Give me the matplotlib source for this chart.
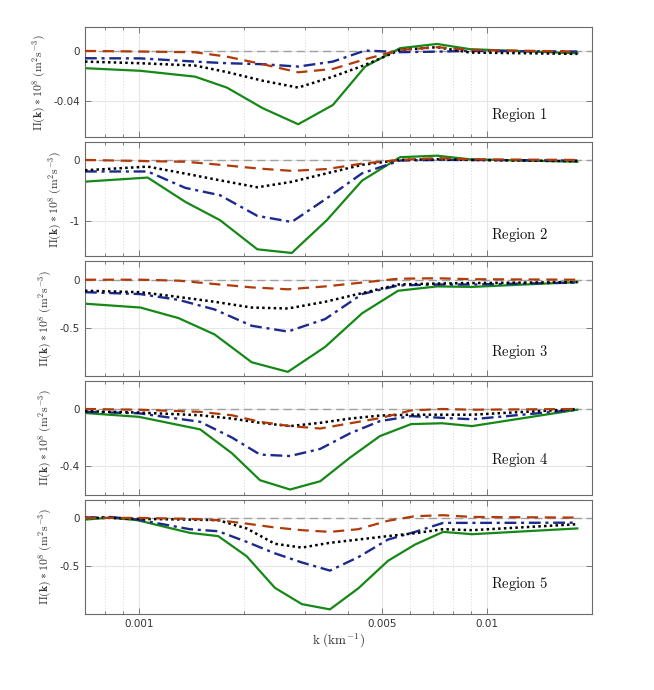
import numpy as np
import matplotlib
matplotlib.use("Agg")
import matplotlib.pyplot as plt
from matplotlib.ticker import FixedLocator, NullFormatter, LogLocator

plt.rcParams['mathtext.fontset'] = 'cm'
plt.rcParams['font.family'] = ['DejaVu Sans']

# ---- data (k in km^-1, Pi(k)*1e8 in m^2 s^-3) ----
k1 = [0.0007, 0.00101, 0.00145, 0.00179, 0.00227, 0.00287, 0.00361, 0.00447, 0.00563, 0.00719, 0.00895, 0.0182]
r1_green = [-0.0139, -0.016, -0.0207, -0.0295, -0.0461, -0.059, -0.0435, -0.0126, 0.0022, 0.0056, 0.0014, -0.0019]
r1_black = [-0.0086, -0.0099, -0.0118, -0.017, -0.024, -0.0295, -0.0207, -0.0113, 0.0008, 0.003, -0.0013, -0.0024]
r1_blue = [-0.0059, -0.006, -0.0086, -0.0099, -0.0107, -0.0126, -0.0086, 0.0003, -0.001, -0.0006, 0.0, -0.0005]
r1_orange = [0.0, -0.0005, -0.0011, -0.0046, -0.0107, -0.0172, -0.0145, -0.0067, 0.0008, 0.003, 0.0008, -0.0005]

k2 = [0.0007, 0.00106, 0.00136, 0.00171, 0.00219, 0.00275, 0.00347, 0.00438, 0.00563, 0.00719, 0.00895, 0.0182]
r2_green = [-0.357, -0.29, -0.69, -0.99, -1.47, -1.53, -0.99, -0.34, 0.045, 0.07, 0.01, -0.03]
r2_black = [-0.17, -0.11, -0.225, -0.335, -0.45, -0.36, -0.22, -0.08, 0.0, 0.01, 0.0, -0.02]
r2_blue = [-0.19, -0.19, -0.46, -0.58, -0.92, -1.02, -0.63, -0.22, -0.01, 0.0, 0.0, -0.01]
r2_orange = [0.0, -0.02, -0.03, -0.08, -0.14, -0.18, -0.15, -0.06, 0.0, 0.03, 0.01, 0.0]

k3 = [0.0007, 0.00101, 0.0013, 0.00165, 0.00211, 0.00268, 0.00343, 0.00438, 0.00556, 0.00719, 0.00907, 0.0182]
r3_green = [-0.25, -0.29, -0.40, -0.57, -0.86, -0.96, -0.70, -0.35, -0.115, -0.07, -0.075, -0.025]
r3_black = [-0.115, -0.13, -0.18, -0.23, -0.29, -0.30, -0.23, -0.14, -0.05, -0.04, -0.035, -0.025]
r3_blue = [-0.13, -0.15, -0.21, -0.31, -0.48, -0.54, -0.41, -0.15, -0.06, -0.05, -0.05, -0.03]
r3_orange = [0.0, 0.0, -0.01, -0.045, -0.08, -0.10, -0.07, -0.03, 0.01, 0.015, 0.005, 0.0]

k4 = [0.0007, 0.001, 0.0015, 0.00185, 0.00223, 0.00272, 0.00332, 0.00405, 0.00493, 0.00606, 0.00744, 0.00907, 0.0182]
r4_green = [-0.028, -0.055, -0.143, -0.31, -0.50, -0.565, -0.507, -0.34, -0.19, -0.106, -0.10, -0.12, -0.005]
r4_black = [-0.015, -0.025, -0.044, -0.067, -0.097, -0.12, -0.097, -0.067, -0.046, -0.04, -0.04, -0.04, 0.0]
r4_blue = [-0.02, -0.03, -0.09, -0.2, -0.32, -0.33, -0.28, -0.17, -0.085, -0.05, -0.062, -0.072, -0.005]
r4_orange = [0.0, -0.005, -0.02, -0.044, -0.09, -0.12, -0.137, -0.10, -0.064, -0.01, 0.0, -0.005, 0.0]

k5 = [0.0007, 0.000825, 0.00099, 0.0014, 0.00169, 0.00204, 0.00246, 0.00294, 0.00354, 0.00427, 0.0052, 0.00622, 0.00749, 0.00907, 0.0182]
r5_green = [-0.018, 0.003, -0.024, -0.156, -0.19, -0.40, -0.73, -0.90, -0.955, -0.736, -0.448, -0.278, -0.146, -0.17, -0.11]
r5_black = [0.0, 0.0, -0.01, -0.018, -0.024, -0.11, -0.27, -0.31, -0.26, -0.226, -0.19, -0.16, -0.118, -0.128, -0.066]
r5_blue = [0.003, 0.01, -0.017, -0.118, -0.139, -0.25, -0.37, -0.465, -0.55, -0.41, -0.226, -0.146, -0.052, -0.052, -0.05]
r5_orange = [0.0, 0.0, 0.0, -0.01, -0.024, -0.06, -0.10, -0.128, -0.146, -0.118, -0.03, 0.018, 0.028, 0.01, 0.003]

region_names = ['Region 1', 'Region 2', 'Region 3', 'Region 4', 'Region 5']
yticks_list = [[-0.04, 0], [-1, 0], [-0.5, 0], [-0.4, 0], [-0.5, 0]]
ytick_labels = [['-0.04', '0'], ['-1', '0'], ['-0.5', '0'], ['-0.4', '0'], ['-0.5', '0']]
ylims = [(-0.0695, 0.019), (-1.58, 0.29), (-1.0, 0.2), (-0.6, 0.2), (-1.0, 0.19)]
xticks = [0.001, 0.005, 0.01]
xtick_labels = ['0.001', '0.005', '0.01']

regions = [
    (k1, r1_green, r1_blue, r1_black, r1_orange),
    (k2, r2_green, r2_blue, r2_black, r2_orange),
    (k3, r3_green, r3_blue, r3_black, r3_orange),
    (k4, r4_green, r4_blue, r4_black, r4_orange),
    (k5, r5_green, r5_blue, r5_black, r5_orange),
]

# ---- layout ----
W, H = 654, 690
fig = plt.figure(figsize=(W / 100, H / 100), dpi=100)
tops = [27.3, 142.3, 260.5, 380.5, 499.7]
bots = [137.3, 256.0, 375.7, 494.5, 613.7]
left_px, right_px = 85, 592.3
label_y = [0.2, 0.185, 0.206, 0.30, 0.258]

green = '#168816'
blue = '#1c2a8c'
orange = '#b03a0a'
frame = '#6a6a6a'

for i, (k, g, b, blk, o) in enumerate(regions):
    ax = fig.add_axes([left_px / W, 1 - bots[i] / H, (right_px - left_px) / W, (bots[i] - tops[i]) / H])
    ax.set_xscale('log')
    ax.set_xlim(0.0007, 0.0201)
    ax.set_ylim(*ylims[i])
    ax.axhline(0, color='#a0a0a0', lw=1.0, ls=(0, (6, 3.5)), zorder=1)
    ax.plot(k, g, color=green, lw=1.6, zorder=2)
    ax.plot(k, b, color=blue, lw=1.7, ls=(0, (5, 2, 1.3, 2)), zorder=3)
    ax.plot(k, blk, color='black', lw=1.8, ls=(0, (1, 1.3)), zorder=4)
    ax.plot(k, o, color=orange, lw=1.6, ls=(0, (5, 3)), zorder=5)

    ax.xaxis.set_major_locator(FixedLocator(xticks))
    ax.xaxis.set_minor_locator(LogLocator(base=10, subs=np.arange(2, 10)))
    ax.xaxis.set_minor_formatter(NullFormatter())
    if i == 4:
        ax.set_xticklabels(xtick_labels, fontsize=7.5, color='#333333')
        ax.set_xlabel(r'$\mathrm{k\ (km^{-1})}$', fontsize=9.5, color='#333333', labelpad=2)
    else:
        ax.set_xticklabels([])
    ax.set_yticks(yticks_list[i])
    ax.set_yticklabels(ytick_labels[i], fontsize=7.5, color='#333333')
    ax.set_ylabel(r'$\mathbf{\Pi(k) * 10^8}\ \mathrm{(m^2s^{-3})}$', fontsize=8.5, color='#333333', labelpad=4)

    ax.grid(True, which='major', color='#e6e6e6', lw=0.8, ls='-', zorder=0)
    ax.grid(True, which='minor', axis='x', color='#d8d8d8', lw=0.7, ls=(0, (1, 2)), zorder=0)
    ax.set_axisbelow(True)
    ax.tick_params(which='both', direction='in', top=True, right=True, color=frame, width=0.6)
    ax.tick_params(which='major', length=4)
    ax.tick_params(which='minor', length=2)
    for s in ax.spines.values():
        s.set_color(frame)
        s.set_linewidth(0.8)
    ax.text(0.80, label_y[i], r'$\mathrm{%s}$' % region_names[i].replace(' ', r'\ '),
            transform=ax.transAxes, fontsize=10.5, ha='left', va='center', color='#111111')

fig.savefig('out.png', dpi=100, facecolor='white')
